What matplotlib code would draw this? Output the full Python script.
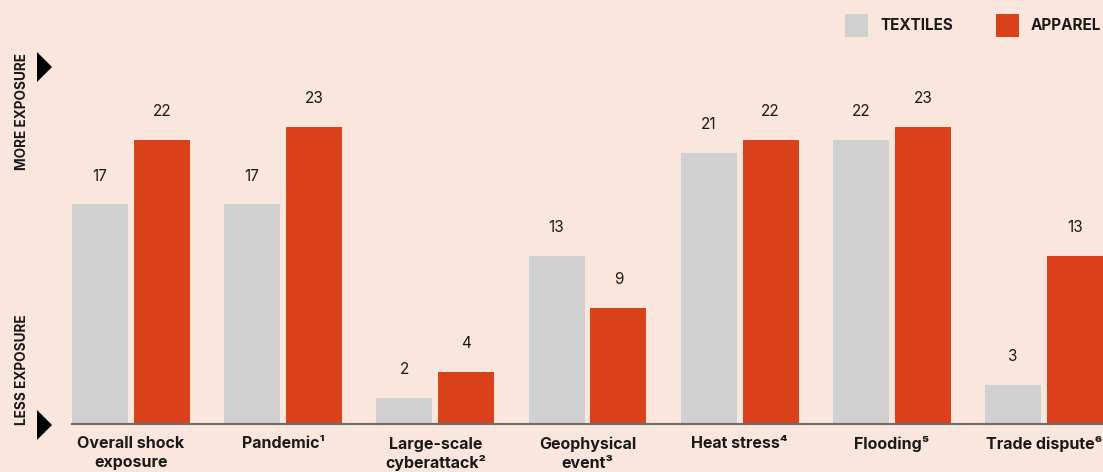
import numpy as np
import matplotlib.pyplot as plt
from matplotlib.patches import Polygon, Rectangle

# dados
categorias = ['Overall shock\nexposure', 'Pandemic\u00b9', 'Large-scale\ncyberattack\u00b2',
              'Geophysical\nevent\u00b3', 'Heat stress\u2074', 'Flooding\u2075', 'Trade dispute\u2076']
textiles = [17, 17, 2, 13, 21, 22, 3]
apparel = [22, 23, 4, 9, 22, 23, 13]

BG = '#FAE6DC'
CINZA = '#D0D0D0'
LARANJA = '#DA411B'
TEXTO = '#1a1a1a'

plt.rcParams['font.family'] = ['Inter', 'DejaVu Sans']

W, H = 1103, 472
fig = plt.figure(figsize=(W / 100, H / 100), dpi=100, facecolor=BG)

# eixo posicionado em pixels
esq, dir_, base, topo = 72, 1103, 424, 36.6
ax = fig.add_axes([esq / W, (H - base) / H, (dir_ - esq) / W, (base - topo) / H])
ax.set_facecolor(BG)

x = np.arange(len(categorias))
larg = 0.368
desl = 0.2035
ax.bar(x - desl, textiles, larg, color=CINZA, zorder=2)
ax.bar(x + desl, apparel, larg, color=LARANJA, zorder=2)

for xi, v in zip(x - desl, textiles):
    ax.text(xi, v + 2.2, str(v), ha='center', va='center', fontsize=11, color=TEXTO)
for xi, v in zip(x + desl, apparel):
    ax.text(xi, v + 2.2, str(v), ha='center', va='center', fontsize=11, color=TEXTO)

ax.set_xlim(-desl - larg / 2, len(categorias) - 1 + desl + larg / 2)
ax.set_ylim(0, 30)
ax.set_xticks(x)
ax.set_xticklabels(categorias, fontsize=11.5, fontweight='bold', color=TEXTO, linespacing=1.3)
ax.tick_params(axis='x', length=0, pad=9)
ax.set_yticks([])
for s in ['top', 'right', 'left']:
    ax.spines[s].set_visible(False)
ax.spines['bottom'].set_color('#6b6b6b')
ax.spines['bottom'].set_linewidth(1.5)
ax.spines['bottom'].set_zorder(3)

# legenda manual
def px(xp, yp):
    return (xp / W, (H - yp) / H)

for cor, nome, x0 in [(CINZA, 'TEXTILES', 845), (LARANJA, 'APPAREL', 996)]:
    fig.patches.append(Rectangle(px(x0, 37), 23 / W, 23 / H, transform=fig.transFigure,
                                 facecolor=cor, edgecolor='none'))
    fig.text(*px(x0 + 35, 26), nome, fontsize=11, fontweight='bold', color=TEXTO,
             va='center', ha='left')

# setas e rotulos laterais
for ytopo in [52, 410]:
    pts = [px(37, ytopo), px(52, ytopo + 15), px(37, ytopo + 30)]
    fig.patches.append(Polygon(pts, closed=True, transform=fig.transFigure,
                               facecolor='black', edgecolor='none'))

fig.text(*px(22, 111), 'MORE EXPOSURE', rotation=90, fontsize=9.8, fontweight='bold',
         color=TEXTO, ha='center', va='center')
fig.text(*px(22, 370), 'LESS EXPOSURE', rotation=90, fontsize=9.8, fontweight='bold',
         color=TEXTO, ha='center', va='center')

fig.savefig('out.png', dpi=100, facecolor=BG)
